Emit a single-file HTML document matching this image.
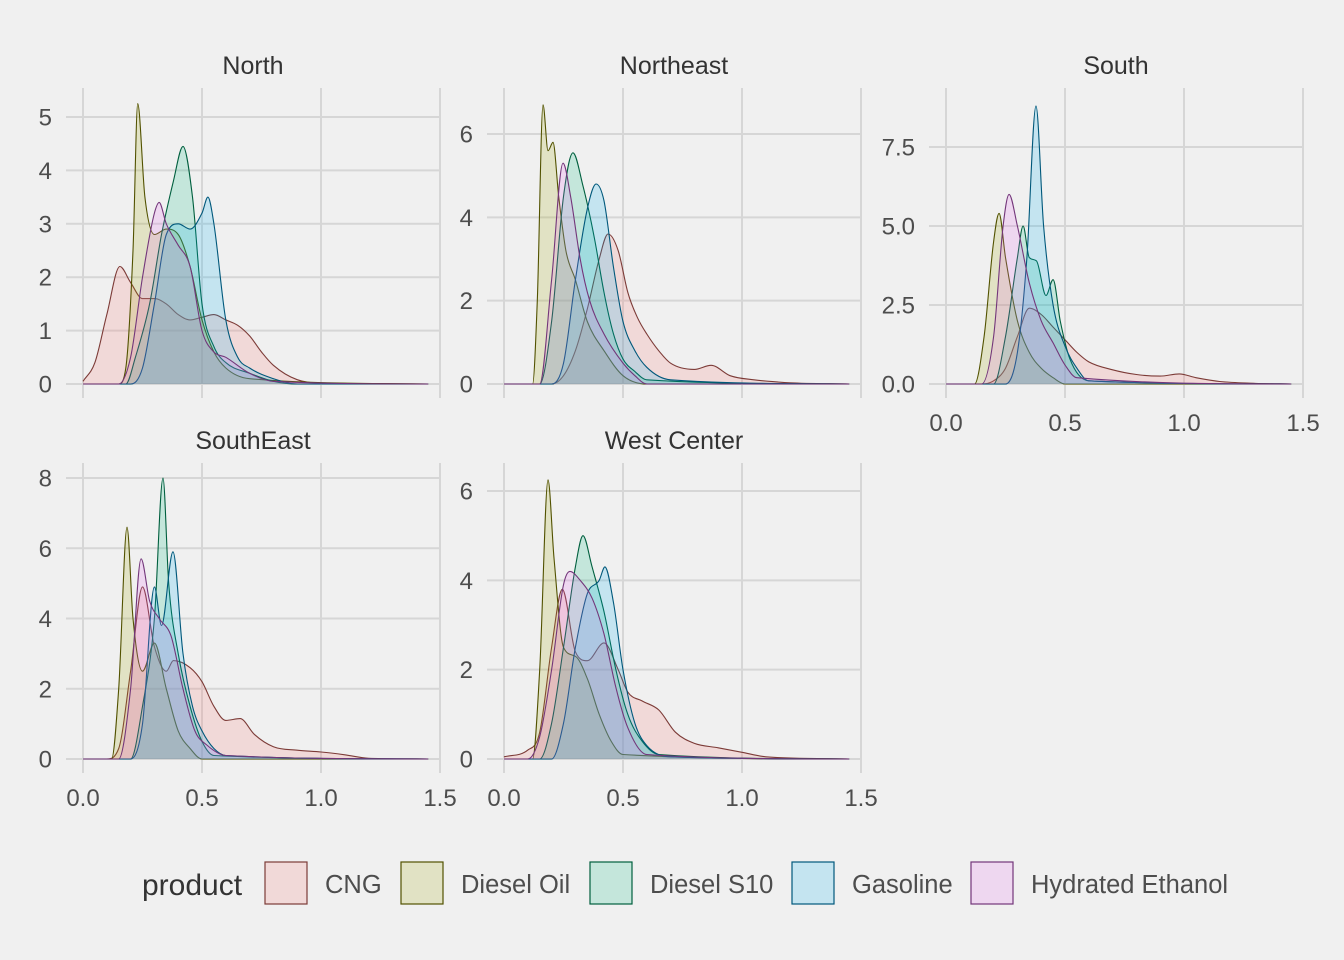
<!DOCTYPE html>
<html><head><meta charset="utf-8">
<style>
body{margin:0;background:#f0f0f0;}
svg{display:block;font-family:"Liberation Sans",sans-serif;}
</style></head>
<body>
<svg id="chart" width="1344" height="960" viewBox="0 0 1344 960">
<rect width="1344" height="960" fill="#f0f0f0"/>
</svg>
<script>
const products = ["CNG","Diesel Oil","Diesel S10","Gasoline","Hydrated Ethanol"];
const fills = ["#F8766D","#A3A500","#00BF7D","#00B0F6","#E76BF3"];
const strokes = ["#7c3b37","#525200","#005f3e","#00587b","#73367a"];
const regions = ["North","Northeast","South","SouthEast","West Center"];
const xTicks = [0,0.5,1.0,1.5];
const xTickLabels = ["0.0","0.5","1.0","1.5"];
const yTicksNorth = [0,1,2,3,4,5];
const yTicksNortheast = [0,2,4,6];
const yTicksSouth = [0,2.5,5,7.5];
const yTickLabelsSouth = ["0.0","2.5","5.0","7.5"];
const yTicksSouthEast = [0,2,4,6,8];
const yTicksWestCenter = [0,2,4,6];

// North
const northCNGx=[0,0.05,0.1,0.155,0.2,0.25,0.3,0.35,0.4,0.45,0.5,0.55,0.6,0.65,0.7,0.75,0.8,0.9,1.0,1.45];
const northCNGy=[0.05,0.4,1.3,2.2,1.9,1.6,1.6,1.5,1.3,1.2,1.25,1.3,1.2,1.1,0.9,0.6,0.35,0.08,0.02,0];
const northOilx=[0,0.15,0.18,0.21,0.23,0.26,0.3,0.35,0.4,0.45,0.5,0.55,0.6,0.7,1.45];
const northOily=[0,0,0.3,2.5,5.25,3.5,2.8,2.9,2.8,2.2,1.2,0.6,0.3,0.1,0];
const northS10x=[0,0.18,0.22,0.28,0.33,0.38,0.42,0.46,0.5,0.55,0.6,0.7,0.8,0.9,1.45];
const northS10y=[0,0,0.5,1.5,2.8,3.8,4.45,3.5,1.5,0.7,0.4,0.2,0.05,0,0];
const northGasx=[0,0.2,0.25,0.3,0.35,0.4,0.45,0.5,0.525,0.55,0.6,0.65,0.7,0.8,0.9,1.45];
const northGasy=[0,0,0.3,1.5,2.8,3.0,2.9,3.2,3.5,3.0,1.2,0.5,0.3,0.1,0,0];
const northEthx=[0,0.15,0.2,0.25,0.3,0.32,0.35,0.4,0.45,0.5,0.55,0.6,0.7,0.8,1.45];
const northEthy=[0,0,0.5,2.0,3.2,3.4,3.0,2.6,2.2,1.0,0.6,0.5,0.2,0.05,0];
// Northeast
const neCNGx=[0,0.2,0.25,0.3,0.35,0.4,0.437,0.48,0.52,0.56,0.6,0.65,0.7,0.8,0.87,0.95,1.05,1.2,1.45];
const neCNGy=[0,0,0.2,0.8,1.8,3.0,3.6,3.2,2.2,1.6,1.2,0.8,0.5,0.35,0.45,0.2,0.1,0.03,0];
const neOilx=[0,0.12,0.14,0.164,0.185,0.206,0.23,0.26,0.3,0.35,0.42,0.5,0.6,1.45];
const neOily=[0,0,2,6.7,5.6,5.8,4.5,3.2,2.5,1.5,0.8,0.2,0,0];
const neS10x=[0,0.15,0.2,0.25,0.29,0.33,0.38,0.42,0.46,0.5,0.55,0.6,1.45];
const neS10y=[0,0,1.5,4.5,5.55,4.8,3.5,2.2,1.2,0.6,0.3,0.1,0];
const neGasx=[0,0.2,0.25,0.3,0.35,0.387,0.42,0.46,0.5,0.55,0.6,0.7,1.45];
const neGasy=[0,0,0.5,2.5,4.2,4.8,4.4,2.8,1.5,0.8,0.4,0.1,0];
const neEthx=[0,0.15,0.2,0.248,0.28,0.32,0.36,0.42,0.5,0.55,0.6,1.45];
const neEthy=[0,0,2.5,5.3,4.5,3.0,2.0,1.2,0.5,0.2,0,0];
// South
const sCNGx=[0,0.15,0.2,0.25,0.3,0.35,0.4,0.45,0.5,0.55,0.6,0.7,0.8,0.9,0.98,1.05,1.15,1.3,1.45];
const sCNGy=[0,0,0.1,0.5,1.5,2.4,2.2,1.8,1.4,1.0,0.7,0.45,0.3,0.25,0.32,0.2,0.08,0.02,0];
const sOilx=[0,0.12,0.16,0.2,0.223,0.25,0.3,0.35,0.4,0.45,0.5,1.45];
const sOily=[0,0,1.5,4.5,5.4,4,2,1,0.5,0.2,0,0];
const sS10x=[0,0.2,0.25,0.3,0.324,0.35,0.38,0.42,0.45,0.48,0.52,0.6,1.45];
const sS10y=[0,0,1.5,4,5,4,3.9,2.8,3.3,2,0.8,0.1,0];
const sGasx=[0,0.25,0.3,0.34,0.378,0.41,0.45,0.5,0.55,0.6,1.45];
const sGasy=[0,0,1,4,8.8,5,2.5,1.2,0.5,0.1,0];
const sEthx=[0,0.15,0.2,0.24,0.265,0.3,0.35,0.4,0.45,0.5,0.55,1.45];
const sEthy=[0,0,1.5,5,6,5,3.2,2,1.3,0.6,0.2,0];
// SouthEast
const seCNGx=[0,0.1,0.15,0.2,0.25,0.3,0.35,0.38,0.45,0.5,0.55,0.6,0.66,0.72,0.8,0.9,1.0,1.1,1.2,1.45];
const seCNGy=[0,0,0.3,2.5,4.9,3.2,2.5,2.8,2.6,2.2,1.5,1.1,1.15,0.7,0.35,0.25,0.2,0.12,0.02,0];
const seOilx=[0,0.12,0.15,0.185,0.21,0.25,0.3,0.35,0.4,0.45,0.5,1.45];
const seOily=[0,0,2,6.6,4,2.5,3.3,2,0.8,0.3,0,0];
const seS10x=[0,0.2,0.25,0.3,0.336,0.36,0.4,0.45,0.5,0.55,1.45];
const seS10y=[0,0,1.5,4,8,5,3,1.5,0.5,0.1,0];
const seGasx=[0,0.2,0.25,0.3,0.33,0.378,0.42,0.46,0.5,0.55,0.6,1.45];
const seGasy=[0,0,1,4.9,3.8,5.9,3,1.5,0.8,0.3,0.1,0];
const seEthx=[0,0.15,0.2,0.244,0.28,0.32,0.37,0.42,0.47,0.52,0.6,1.45];
const seEthy=[0,0,2,5.7,4.5,4,3.5,2,0.8,0.4,0.1,0];
// West Center
const wcCNGx=[0,0.1,0.15,0.2,0.245,0.3,0.35,0.42,0.48,0.52,0.58,0.65,0.72,0.8,0.9,1.0,1.1,1.45];
const wcCNGy=[0.05,0.2,0.6,2.5,3.8,2.4,2.2,2.6,2.0,1.5,1.3,1.1,0.6,0.35,0.25,0.15,0.05,0];
const wcOilx=[0,0.12,0.15,0.185,0.21,0.25,0.3,0.35,0.4,0.45,0.5,1.45];
const wcOily=[0,0,2,6.25,4.5,2.5,2.3,1.8,1,0.4,0.1,0];
const wcS10x=[0,0.15,0.2,0.25,0.3,0.332,0.37,0.42,0.47,0.52,0.58,0.65,1.45];
const wcS10y=[0,0,0.8,2.5,4.3,5,4.3,3.3,2,1,0.4,0.1,0];
const wcGasx=[0,0.2,0.25,0.3,0.35,0.4,0.424,0.46,0.5,0.55,0.6,0.7,1.45];
const wcGasy=[0,0,0.8,2.5,3.7,4.0,4.3,3.5,2,0.8,0.3,0.05,0];
const wcEthx=[0,0.1,0.15,0.2,0.25,0.277,0.32,0.37,0.42,0.47,0.52,0.6,1.45];
const wcEthy=[0,0,0.5,2,3.9,4.2,4,3.6,2.8,1.6,0.7,0.1,0];

const NS="http://www.w3.org/2000/svg";
const svg=document.getElementById('chart');
function mk(tag,attrs,parent){const e=document.createElementNS(NS,tag);for(const k in attrs)e.setAttribute(k,attrs[k]);(parent||svg).appendChild(e);return e;}

const panels=[
 {name:"North",left:66,x0:83,top:88,bottom:398,y0:384,yMax:5,yPx:117,ticks:yTicksNorth,labels:yTicksNorth.map(String),xlab:false,
  series:[[northCNGx,northCNGy],[northOilx,northOily],[northS10x,northS10y],[northGasx,northGasy],[northEthx,northEthy]]},
 {name:"Northeast",left:487,x0:504,top:88,bottom:398,y0:384,yMax:6,yPx:134,ticks:yTicksNortheast,labels:yTicksNortheast.map(String),xlab:false,
  series:[[neCNGx,neCNGy],[neOilx,neOily],[neS10x,neS10y],[neGasx,neGasy],[neEthx,neEthy]]},
 {name:"South",left:929,x0:946,top:88,bottom:398,y0:384,yMax:7.5,yPx:147,ticks:yTicksSouth,labels:yTickLabelsSouth,xlab:true,
  series:[[sCNGx,sCNGy],[sOilx,sOily],[sS10x,sS10y],[sGasx,sGasy],[sEthx,sEthy]]},
 {name:"SouthEast",left:66,x0:83,top:463,bottom:773,y0:759,yMax:8,yPx:478,ticks:yTicksSouthEast,labels:yTicksSouthEast.map(String),xlab:true,
  series:[[seCNGx,seCNGy],[seOilx,seOily],[seS10x,seS10y],[seGasx,seGasy],[seEthx,seEthy]]},
 {name:"West Center",left:487,x0:504,top:463,bottom:773,y0:759,yMax:6,yPx:491,ticks:yTicksWestCenter,labels:yTicksWestCenter.map(String),xlab:true,
  series:[[wcCNGx,wcCNGy],[wcOilx,wcOily],[wcS10x,wcS10y],[wcGasx,wcGasy],[wcEthx,wcEthy]]}
];

function monoPath(px,py){
 const n=px.length;const d=[],m=new Array(n);
 for(let i=0;i<n-1;i++)d.push((py[i+1]-py[i])/(px[i+1]-px[i]));
 m[0]=d[0];m[n-1]=d[n-2];
 for(let i=1;i<n-1;i++){m[i]=(d[i-1]*d[i]<=0)?0:(d[i-1]+d[i])/2;}
 for(let i=0;i<n-1;i++){if(d[i]===0){m[i]=0;m[i+1]=0;continue;}const a=m[i]/d[i],b=m[i+1]/d[i],s=a*a+b*b;if(s>9){const t=3/Math.sqrt(s);m[i]=t*a*d[i];m[i+1]=t*b*d[i];}}
 let p="M"+px[0].toFixed(1)+","+py[0].toFixed(1);
 for(let i=0;i<n-1;i++){const h=(px[i+1]-px[i])/3;
  p+="C"+(px[i]+h).toFixed(1)+","+(py[i]+m[i]*h).toFixed(1)+" "+(px[i+1]-h).toFixed(1)+","+(py[i+1]-m[i+1]*h).toFixed(1)+" "+px[i+1].toFixed(1)+","+py[i+1].toFixed(1);}
 return p;
}

panels.forEach(P=>{
 const key=P.name.toLowerCase().replace(/\s+/g,'-');
 const g=mk('g',{});
 
 
 const xs=v=>P.x0+v*238;
 const ys=v=>P.y0-v*(P.y0-P.yPx)/P.yMax;
 const right=xs(1.5);
 const t=mk('text',{x:(P.left+right)/2,y:P.top-14,'text-anchor':'middle','font-size':25,fill:'#333'},g);
 t.textContent=P.name;
 
 
 P.ticks.forEach((v,i)=>{
  const l=mk('line',{x1:P.left,x2:right,y1:ys(v),y2:ys(v),stroke:'#d6d6d6','stroke-width':2},g);
  
  
  const tl=mk('text',{x:P.left-14,y:ys(v)+8.5,'text-anchor':'end','font-size':24,fill:'#4d4d4d'},g);
  tl.textContent=P.labels[i];
  
  
 });
 xTicks.forEach((v,i)=>{
  const l=mk('line',{x1:xs(v),x2:xs(v),y1:P.top,y2:P.bottom,stroke:'#d6d6d6','stroke-width':2},g);
  
  
  if(P.xlab){
   const tl=mk('text',{x:xs(v),y:P.bottom+33,'text-anchor':'middle','font-size':24,fill:'#4d4d4d'},g);
   tl.textContent=xTickLabels[i];
   
   
  }
 });
 P.series.forEach((s,k)=>{
  const px=s[0].map(xs),py=s[1].map(ys);
  const line=monoPath(px,py);
  const area=line+"L"+px[px.length-1].toFixed(1)+","+P.y0+"L"+px[0].toFixed(1)+","+P.y0+"Z";
  const a=mk('path',{d:area,fill:fills[k],'fill-opacity':0.18,stroke:'none'},g);
  
  
  const ln=mk('path',{d:line,fill:'none',stroke:strokes[k],'stroke-width':1.1},g);
  
  
 });
});

// legend
const lg=mk('g',{});


const lt=mk('text',{x:142,y:895,'font-size':30,fill:'#333'},lg);
lt.textContent='product';


const boxX=[265,401,590,792,971];
products.forEach((p,k)=>{
 const r=mk('rect',{x:boxX[k],y:862,width:42,height:42,fill:fills[k],'fill-opacity':0.18,stroke:strokes[k],'stroke-width':1.2},lg);
 
 
 const tx=mk('text',{x:boxX[k]+60,y:893,'font-size':25.5,fill:'#4d4d4d'},lg);
 tx.textContent=p;
 
 
});
</script>
</body></html>
